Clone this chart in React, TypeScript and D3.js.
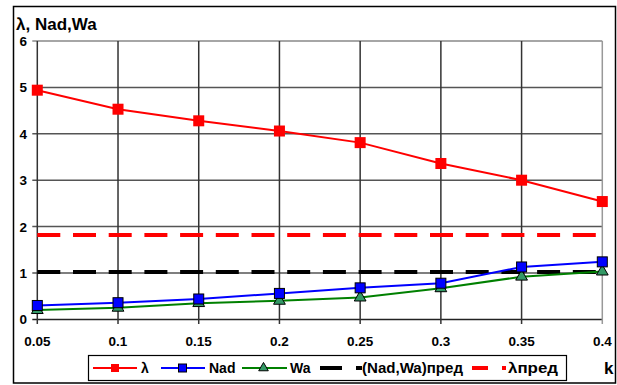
import React from "react";
import * as d3 from "d3";

const kValues = [0.05, 0.1, 0.15, 0.2, 0.25, 0.3, 0.35, 0.4];
const xTickLabels = ["0.05", "0.1", "0.15", "0.2", "0.25", "0.3", "0.35", "0.4"];
const lambda = [4.94, 4.53, 4.28, 4.06, 3.81, 3.36, 3.0, 2.54];
const nad = [0.3, 0.36, 0.44, 0.56, 0.68, 0.78, 1.13, 1.24];
const wa = [0.2, 0.25, 0.35, 0.4, 0.47, 0.67, 0.92, 1.03];
const nadWaPred = 1.02;
const lambdaPred = 1.82;
const yTicks = [0, 1, 2, 3, 4, 5, 6];

const W = 617;
const H = 385;
const FONT = "'Liberation Sans', Arial, Helvetica, sans-serif";

export default function App() {
  const x = d3.scaleLinear().domain([0.05, 0.4]).range([37.3, 602.3]);
  const y = d3.scaleLinear().domain([0, 6]).range([319.4, 41]);
  const line = d3
    .line<number>()
    .x((_, i) => x(kValues[i]))
    .y((d) => y(d));

  const tri = d3.symbol().type(d3.symbolTriangle).size(60)();
  const triSmall = d3.symbol().type(d3.symbolTriangle).size(40)();

  const dash = "23 12.7";

  const ly = 368;
  const lt = ly + 5;
  return (
    <div style={{ position: "fixed", left: 0, top: 0, width: W, height: H, overflow: "hidden" }}>
      <svg width={W} height={H} style={{ display: "block", fontFamily: FONT }}>
        <rect x={0} y={0} width={W} height={H} fill="#fff" />
        <rect x={13.5} y={6.5} width={602} height={376.5} fill="none" stroke="#000" strokeWidth={1.5} />

        {yTicks.map((t) => (
          <line
            key={"h" + t}
            x1={x(0.05) - 5}
            x2={x(0.4)}
            y1={y(t)}
            y2={y(t)}
            stroke={t === 0 ? "#222" : t === 6 ? "#888" : "#555"}
            strokeWidth={1.5}
          />
        ))}
        {kValues.map((k, i) => (
          <line
            key={"v" + k}
            x1={x(k)}
            x2={x(k)}
            y1={y(6)}
            y2={y(0) + 4.5}
            stroke={i === kValues.length - 1 ? "#999" : "#333"}
            strokeWidth={1.5}
          />
        ))}

        {yTicks.map((t) => (
          <text key={"yl" + t} x={27} y={y(t) + 5} textAnchor="end" fontSize={13.5} fontWeight="bold">
            {t}
          </text>
        ))}
        {kValues.map((k, i) => (
          <text key={"xl" + k} x={x(k)} y={345.5} textAnchor="middle" fontSize={13.5} fontWeight="bold">
            {xTickLabels[i]}
          </text>
        ))}

        <text x={16} y={30} fontSize={17} fontWeight="bold">
          λ, Nad,Wa
        </text>
        <text x={604} y={374} fontSize={17} fontWeight="bold">
          k
        </text>

        <line
          x1={x(0.05)}
          x2={x(0.4)}
          y1={y(nadWaPred)}
          y2={y(nadWaPred)}
          stroke="#000"
          strokeWidth={4}
          strokeDasharray={dash}
        />
        <line
          x1={x(0.05)}
          x2={x(0.4)}
          y1={y(lambdaPred)}
          y2={y(lambdaPred)}
          stroke="#ff0000"
          strokeWidth={4}
          strokeDasharray={dash}
        />

        <path d={line(lambda) || ""} fill="none" stroke="#ff0000" strokeWidth={2} />
        <path d={line(wa) || ""} fill="none" stroke="#008000" strokeWidth={2} />
        <path d={line(nad) || ""} fill="none" stroke="#0000ff" strokeWidth={2} />

        {lambda.map((v, i) => (
          <rect key={"lm" + i} x={x(kValues[i]) - 5.5} y={y(v) - 5.5} width={11} height={11} fill="#ff0000" />
        ))}
        {wa.map((v, i) => (
          <path
            key={"wm" + i}
            d={tri || ""}
            transform={`translate(${x(kValues[i])},${y(v)})`}
            fill="#339966"
            stroke="#000"
            strokeWidth={1}
          />
        ))}
        {nad.map((v, i) => (
          <rect
            key={"nm" + i}
            x={x(kValues[i]) - 5}
            y={y(v) - 5}
            width={10}
            height={10}
            fill="#0000ff"
            stroke="#000"
            strokeWidth={1}
          />
        ))}

        <rect x={88.5} y={355.5} width={478} height={25} fill="#fff" stroke="#000" strokeWidth={1.2} />
        <line x1={93} x2={137} y1={ly} y2={ly} stroke="#ff0000" strokeWidth={2} />
        <rect x={111} y={ly - 4} width={8} height={8} fill="#ff0000" />
        <text x={141} y={lt} fontSize={14} fontWeight="bold">λ</text>

        <line x1={161} x2={205} y1={ly} y2={ly} stroke="#0000ff" strokeWidth={2} />
        <rect x={178.5} y={ly - 4} width={8} height={8} fill="#0000ff" stroke="#000" strokeWidth={1} />
        <text x={209} y={lt} fontSize={14} fontWeight="bold">Nad</text>

        <line x1={242} x2={287} y1={ly} y2={ly} stroke="#008000" strokeWidth={2} />
        <path d={triSmall || ""} transform={`translate(263.5,${ly})`} fill="#339966" stroke="#000" strokeWidth={1} />
        <text x={290} y={lt} fontSize={14} fontWeight="bold">Wa</text>

        <line x1={320} x2={362} y1={ly} y2={ly} stroke="#000" strokeWidth={4} strokeDasharray="22 14" />
        <text x={362} y={lt} fontSize={14} fontWeight="bold" textLength={101} lengthAdjust="spacingAndGlyphs">
          (Nad,Wa)пред
        </text>

        <line x1={472} x2={506} y1={ly} y2={ly} stroke="#ff0000" strokeWidth={4} strokeDasharray="16 14" />
        <text x={508} y={lt} fontSize={14} fontWeight="bold" textLength={50} lengthAdjust="spacingAndGlyphs">
          λпред
        </text>
      </svg>
    </div>
  );
}
